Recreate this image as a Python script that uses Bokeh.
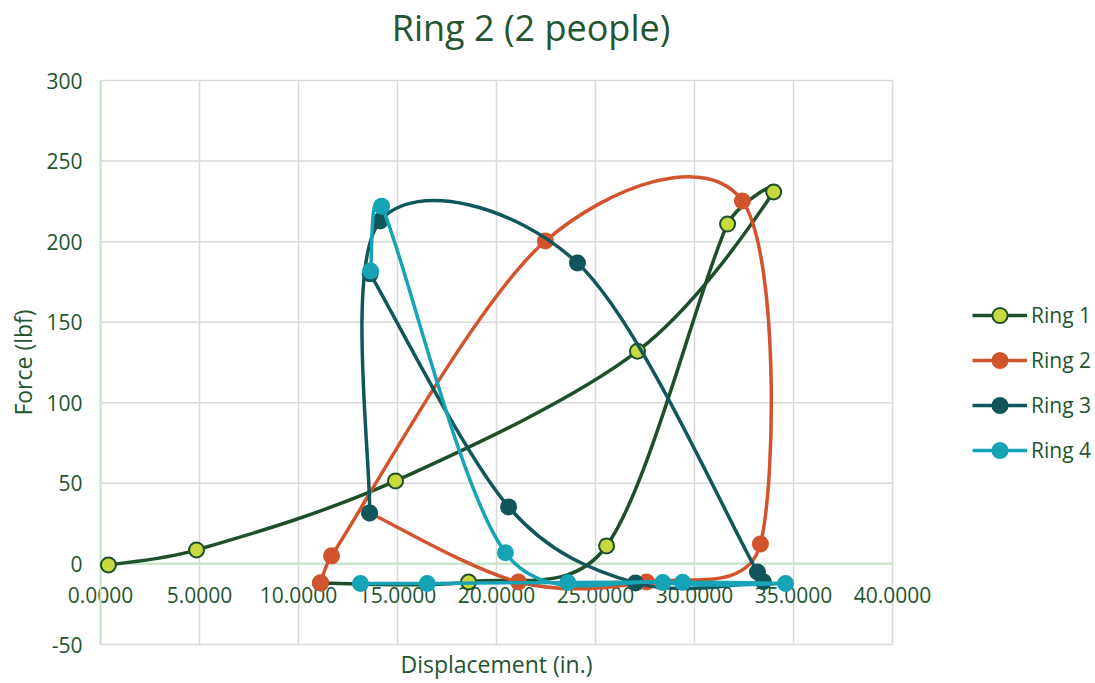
import numpy as np
from bokeh.plotting import figure
from bokeh.models import Range1d, Legend, LegendItem, NumeralTickFormatter, Label
from bokeh.embed import file_html
from bokeh.resources import INLINE

# ---- data ----
ring1_x = [0.40, 4.85, 14.90, 27.12, 34.00, 31.67, 25.56, 18.59, 11.11]
ring1_y = [-0.6, 8.7, 51.5, 132.0, 230.8, 210.9, 11.2, -11.2, -11.8]

ring2_x = [11.11, 11.67, 22.47, 32.42, 33.33, 27.58, 21.11, 13.59]
ring2_y = [-11.8, 5.0, 200.4, 225.2, 12.4, -11.2, -11.2, 31.6]

ring3_x = [13.62, 20.61, 27.02, 33.48, 33.18, 24.09, 14.12, 13.59]
ring3_y = [180.0, 35.4, -11.8, -11.0, -5.0, 186.7, 212.8, 31.6]

ring4_x = [13.64, 14.20, 20.45, 28.40, 34.60, 29.40, 23.60, 16.50, 13.13]
ring4_y = [181.8, 222.0, 7.0, -11.5, -12.1, -11.3, -11.5, -12.1, -12.1]

series_names = ["Ring 1", "Ring 2", "Ring 3", "Ring 4"]
x_ticks = [0, 5, 10, 15, 20, 25, 30, 35, 40]
y_ticks = [-50, 0, 50, 100, 150, 200, 250, 300]
X_MIN, X_MAX = 0, 40
Y_MIN, Y_MAX = -50, 300

TEXT = "#245430"
FONT = "Open Sans"
GRID = "#d9d9d9"
AXIS = "#c3e6c5"

W, H = 1095, 683
# plot-area placement on the page (pixels)
PL, PR, PT, PB = 100, 892, 80, 644
SX = (PR - PL) / (X_MAX - X_MIN)
SY = (PB - PT) / (Y_MAX - Y_MIN)


def smooth(x, y):
    """Bezier handles for a smoothed line through the points."""
    x = np.asarray(x, float)
    y = np.asarray(y, float)
    n = len(x)
    xp = np.concatenate([[x[0]], x, [x[-1]]])
    yp = np.concatenate([[y[0]], y, [y[-1]]])
    tx = (xp[2:] - xp[:-2]) / 6.0
    ty = (yp[2:] - yp[:-2]) / 6.0
    seglen = np.hypot(np.diff(x) * SX, np.diff(y) * SY)
    cx0 = np.empty(n - 1); cy0 = np.empty(n - 1)
    cx1 = np.empty(n - 1); cy1 = np.empty(n - 1)
    for i in range(n - 1):
        lim = 0.42 * seglen[i]
        a = np.hypot(tx[i] * SX, ty[i] * SY)
        f = min(1.0, lim / a) if a > 0 else 1.0
        cx0[i] = x[i] + tx[i] * f
        cy0[i] = y[i] + ty[i] * f
        b = np.hypot(tx[i + 1] * SX, ty[i + 1] * SY)
        g = min(1.0, lim / b) if b > 0 else 1.0
        cx1[i] = x[i + 1] - tx[i + 1] * g
        cy1[i] = y[i + 1] - ty[i + 1] * g
    return dict(x0=x[:-1], y0=y[:-1], x1=x[1:], y1=y[1:],
                cx0=cx0, cy0=cy0, cx1=cx1, cy1=cy1)


# the frame covers the whole canvas; the chart's plot area is the data box
x_range = Range1d(X_MIN - PL / SX, X_MAX + (W - PR) / SX)
y_range = Range1d(Y_MIN - (H - PB) / SY, Y_MAX + PT / SY)

p = figure(width=W, height=H, x_range=x_range, y_range=y_range,
           output_backend="svg", toolbar_location=None,
           min_border=0)
p.title.visible = False
p.outline_line_color = None
p.background_fill_color = "white"
p.border_fill_color = "white"
p.xgrid.visible = False
p.ygrid.visible = False

# gridlines limited to the plot area
p.segment(x0=x_ticks, y0=[Y_MIN] * len(x_ticks), x1=x_ticks, y1=[Y_MAX] * len(x_ticks),
          line_color=GRID, line_width=1.5, level="image")
p.segment(x0=[X_MIN] * len(y_ticks), y0=y_ticks, x1=[X_MAX] * len(y_ticks), y1=y_ticks,
          line_color=GRID, line_width=1.5, level="image")

# axes (crossing at zero, as in the spreadsheet chart)
xa = p.xaxis[0]
xa.ticker = x_ticks
xa.formatter = NumeralTickFormatter(format="0.0000")
xa.fixed_location = 0
xa.bounds = (X_MIN, X_MAX)
xa.axis_line_color = AXIS
xa.axis_line_width = 2
xa.major_tick_line_color = None
xa.minor_tick_line_color = None
xa.major_tick_out = 0
xa.major_tick_in = 0
xa.major_label_standoff = 23
xa.major_label_text_font = FONT
xa.major_label_text_font_size = "21px"
xa.major_label_text_color = TEXT
xa.axis_label = "Displacement (in.)"
xa.axis_label_text_font = FONT
xa.axis_label_text_font_size = "23px"
xa.axis_label_text_font_style = "normal"
xa.axis_label_text_color = TEXT
xa.axis_label_standoff = 42
xa.level = "underlay"

ya = p.yaxis[0]
ya.ticker = y_ticks
ya.formatter = NumeralTickFormatter(format="0")
ya.fixed_location = 0
ya.bounds = (Y_MIN, Y_MAX)
ya.axis_line_color = AXIS
ya.axis_line_width = 2
ya.major_tick_line_color = None
ya.minor_tick_line_color = None
ya.major_tick_out = 0
ya.major_tick_in = 0
ya.major_label_standoff = 18
ya.major_label_text_font = FONT
ya.major_label_text_font_size = "21px"
ya.major_label_text_color = TEXT
ya.axis_label = "Force (lbf)"
ya.axis_label_text_font = FONT
ya.axis_label_text_font_size = "23px"
ya.axis_label_text_font_style = "normal"
ya.axis_label_text_color = TEXT
ya.axis_label_standoff = 4
ya.level = "underlay"

title = Label(x=530.5, y=H - 27, x_units="screen", y_units="screen",
              text="Ring 2 (2 people)", text_align="center", text_baseline="middle",
              text_font=FONT, text_font_size="36px", text_color=TEXT)
p.add_layout(title)

styles = [
    dict(line="#1e4f2a", fill="#c8d93e", outline="#1e4f2a"),
    dict(line="#d2542c", fill="#d2542c", outline="#d2542c"),
    dict(line="#11565a", fill="#11565a", outline="#11565a"),
    dict(line="#17a3b6", fill="#17a3b6", outline="#17a3b6"),
]
data = [(ring1_x, ring1_y), (ring2_x, ring2_y), (ring3_x, ring3_y), (ring4_x, ring4_y)]

items = []
for name, (xs, ys), st in zip(series_names, data, styles):
    seg = smooth(xs, ys)
    br = p.bezier(x0=seg["x0"], y0=seg["y0"], x1=seg["x1"], y1=seg["y1"],
                  cx0=seg["cx0"], cy0=seg["cy0"], cx1=seg["cx1"], cy1=seg["cy1"],
                  line_color=st["line"], line_width=3.5)
    sr = p.scatter(xs, ys, size=15, marker="circle",
                   fill_color=st["fill"], line_color=st["outline"], line_width=2)
    items.append(LegendItem(label=name, renderers=[br, sr]))

legend = Legend(items=items, location=(972, 214))
legend.glyph_width = 55
legend.glyph_height = 38
legend.spacing = 7
legend.padding = 0
legend.margin = 0
legend.label_standoff = 4
legend.label_text_font = FONT
legend.label_text_font_size = "21px"
legend.label_text_color = TEXT
legend.label_height = 38
legend.border_line_color = None
legend.background_fill_alpha = 0
p.add_layout(legend, "center")

open("out.html", "w").write(file_html(p, INLINE))
